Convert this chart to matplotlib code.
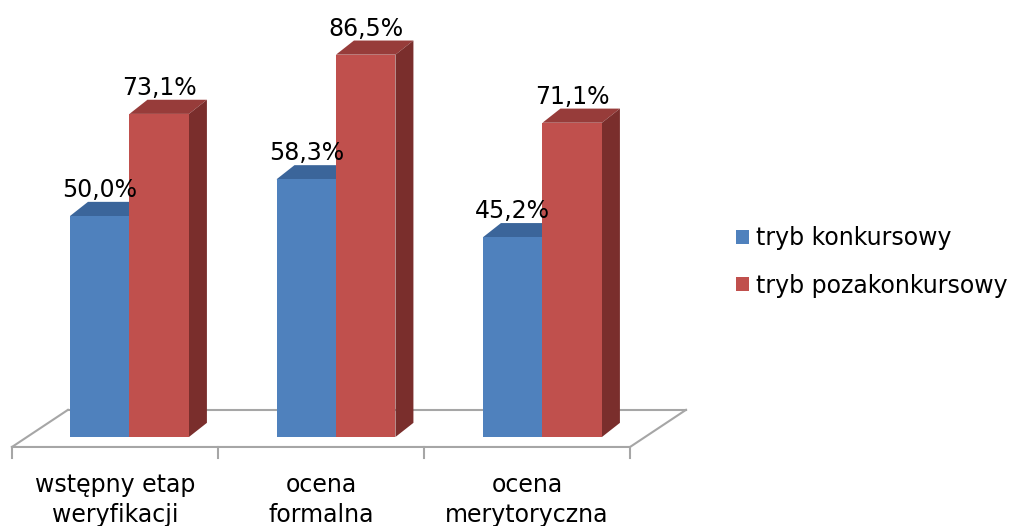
import matplotlib.pyplot as plt
import numpy as np
from matplotlib.patches import Patch, Polygon

categories = ["wstępny etap\nweryfikacji", "ocena\nformalna", "ocena\nmerytoryczna"]
series_names = ["tryb konkursowy", "tryb pozakonkursowy"]
konkursowy = [50.0, 58.3, 45.2]
pozakonkursowy = [73.1, 86.5, 71.1]

front = ["#4F81BD", "#C0504D"]
top = ["#3B659A", "#973C3A"]
side = ["#345A87", "#7A2E2C"]

plt.rcParams['font.family'] = ['DejaVu Sans']

fig = plt.figure(figsize=(10.1, 5.26), dpi=100)
ax = fig.add_axes([0, 0, 1, 1])
ax.set_xlim(-0.627, 4.264)
ax.set_ylim(-20.14, 98.87)
ax.axis('off')

w = 0.288          # bar width
dx, dy = 0.087, 3.2  # bar depth
fdx, fdy = 0.271, 8.4  # floor depth
x = np.arange(len(categories))

# floor: outline of a flat plate under the bars
fl, fr, fy = -0.569, 2.424, -2.26
ax.plot([fl + fdx, fr + fdx], [fy + fdy, fy + fdy], color="#A6A6A6", lw=1.5, zorder=1)
ax.plot([fl, fr, fr + fdx], [fy, fy, fy + fdy], color="#A6A6A6", lw=1.5, zorder=1)
ax.plot([fl, fl + fdx], [fy, fy + fdy], color="#A6A6A6", lw=1.5, zorder=1)
ticks = np.linspace(fl, fr, len(categories) + 1)
for t in ticks:
    ax.plot([t, t], [fy, fy - 2.5], color="#A6A6A6", lw=1.5, zorder=1)
for i, cat in enumerate(categories):
    ax.text((ticks[i] + ticks[i + 1]) / 2, -14.3, cat, ha='center', va='center',
            fontsize=17, linespacing=1.32)

for s, vals in enumerate([konkursowy, pozakonkursowy]):
    for i, v in enumerate(vals):
        x0 = x[i] - w + s * w
        ax.add_patch(Polygon([[x0, v], [x0 + w, v], [x0 + w + dx, v + dy], [x0 + dx, v + dy]],
                             closed=True, facecolor=top[s], edgecolor='none', zorder=2))
        ax.add_patch(Polygon([[x0 + w, 0], [x0 + w + dx, dy], [x0 + w + dx, v + dy], [x0 + w, v]],
                             closed=True, facecolor=side[s], edgecolor='none', zorder=2))
    ax.bar(x - w / 2 + s * w, vals, width=w, color=front[s], zorder=3)
    for i, v in enumerate(vals):
        ax.text(x[i] - w / 2 + s * w, v + 4.3, f"{v:.1f}%".replace('.', ','),
                ha='center', va='baseline', fontsize=17, zorder=4)

handles = [Patch(facecolor=c, edgecolor='none') for c in front]
fig.legend(handles, series_names, loc='center left', bbox_to_anchor=(0.708, 0.502),
           frameon=False, fontsize=17, handlelength=0.55, handleheight=0.55,
           handletextpad=0.3, labelspacing=0.98)

fig.savefig("out.png", dpi=100)
